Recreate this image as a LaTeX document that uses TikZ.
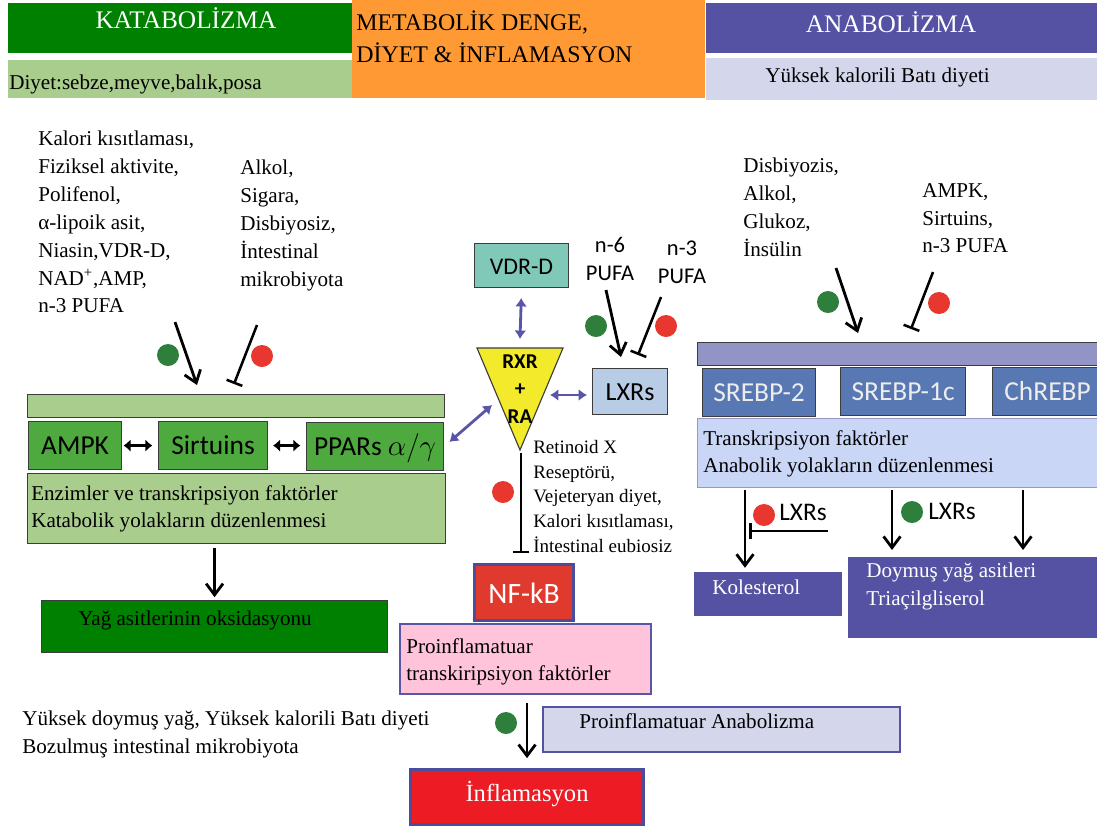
\documentclass[tikz,border=0pt]{standalone}
\usepackage{fontspec}
\setmainfont{Liberation Serif}
\setsansfont{Carlito}
\usetikzlibrary{arrows.meta}

\definecolor{katgreen}{HTML}{008000}
\definecolor{katlight}{HTML}{A9CD8C}
\definecolor{katmid}{HTML}{4EAA3E}
\definecolor{dengeorange}{HTML}{FF9933}
\definecolor{anapurple}{HTML}{5552A4}
\definecolor{analight}{HTML}{D4D7EB}
\definecolor{anabarcol}{HTML}{9294C6}
\definecolor{srebpblue}{HTML}{5878B4}
\definecolor{trblue}{HTML}{C9D6F5}
\definecolor{vdrteal}{HTML}{80C9B8}
\definecolor{lxrblue}{HTML}{B8CCE6}
\definecolor{rxryellow}{HTML}{F2EA2A}
\definecolor{nfred}{HTML}{E0392E}
\definecolor{infred}{HTML}{ED1C24}
\definecolor{nfedge}{HTML}{4A4C9C}
\definecolor{proinfpink}{HTML}{FFC3DA}
\definecolor{dotgreen}{HTML}{2F7F3C}
\definecolor{dotred}{HTML}{E8372F}
\definecolor{linkpurple}{HTML}{5956A9}
\definecolor{boxedge}{HTML}{3C3C3C}

\begin{document}
\begin{tikzpicture}[x=0.025cm, y=-0.025cm,
  sz/.style 2 args={minimum width=#1*0.025cm, minimum height=#2*0.025cm},
  flat/.style={rectangle, anchor=north west, inner sep=0pt},
  box/.style={flat, draw=boxedge, line width=0.8pt},
  sbox/.style={box, font=\sffamily\fontsize{19.5}{22}\selectfont, text height=12pt, text depth=0pt},
  txt/.style={inner sep=0pt, anchor=north west, align=left, font=\fontsize{15}{19.8}\selectfont},
  line/.style={inner sep=0pt, anchor=base west, font=\fontsize{15}{19.8}\selectfont},
  hdr/.style={anchor=base, inner sep=0pt, text=white, font=\fontsize{18}{21}\selectfont},
  dotg/.style={circle, fill=dotgreen, inner sep=0pt, minimum size=22*0.025cm},
  dotr/.style={circle, fill=dotred, inner sep=0pt, minimum size=22*0.025cm},
  act/.style={line width=2pt, -{Straight Barb[length=8pt, width=12pt]}},
  inh/.style={line width=1.8pt, -{Bar[width=12pt]}},
  link/.style={linkpurple, line width=2pt, {Latex[length=6pt, width=8.5pt]}-{Latex[length=6pt, width=8.5pt]}},
  pair/.style={line width=2.5pt, {Latex[length=5pt, width=9pt]}-{Latex[length=5pt, width=9pt]}}]
\useasboundingbox (0,0) rectangle (1097,825);

% header
\node[flat, fill=katgreen, sz={344}{50}] (kathead) at (8,3) {};
\node[hdr] (katlbl) at (186,28) {KATABOLİZMA};
\node[flat, fill=katlight, sz={344}{38}] (katdiet) at (8,60) {};
\node[line] (katdietlbl) at (9,89) {Diyet:sebze,meyve,balık,posa};
\node[flat, fill=dengeorange, sz={353}{98}] (denge) at (352,0) {};
\node[txt, font=\fontsize{17}{23.4}\selectfont] (dengelbl) at (356,10) {METABOLİK DENGE,\\DİYET \& İNFLAMASYON};
\node[flat, fill=anapurple, sz={392}{50}] (anahead) at (706,3) {};
\node[hdr] (analbl) at (891,32) {ANABOLİZMA};
\node[flat, fill=analight, sz={392}{42}] (anadiet) at (706,58) {};
\node[line] (anadietlbl) at (765,82) {Yüksek kalorili Batı diyeti};

% katabolizma
\node[txt] (katin) at (38,131) {Kalori kısıtlaması,\\Fiziksel aktivite,\\Polifenol,\\α-lipoik asit,\\Niasin,VDR-D,\\NAD\textsuperscript{+},AMP,\\n-3 PUFA};
\node[txt] (alkol) at (240,160) {Alkol,\\Sigara,\\Disbiyosiz,\\İntestinal\\mikrobiyota};
\node[dotg] (katg) at (168,355) {};
\node[dotr] (katr) at (262,356) {};
\coordinate (katact) at (175,322);
\coordinate (katactend) at (197,385);
\coordinate (katinh) at (257,325);
\coordinate (katinhend) at (234,384);

\node[box, fill=katlight, sz={417}{23}] (katbar) at (27,394) {};
\node[sbox, fill=katmid, sz={93}{48}] (ampk) at (28,421) {AMPK};
\node[sbox, fill=katmid, sz={109}{48}] (sirt) at (158,421) {Sirtuins};
\node[sbox, fill=katmid, sz={137}{48}] (ppar) at (306,422) {PPARs $\alpha/\gamma$};
\node[box, fill=katlight, sz={418}{70}] (katenz) at (27,473) {};
\node[txt] (katenzlbl) at (31,485) {Enzimler ve transkripsiyon faktörler\\Katabolik yolakların düzenlenmesi};
\node[box, fill=katgreen, sz={346}{52}] (oksid) at (41,600) {};
\node[line] (oksidlbl) at (78,625) {Yağ asitlerinin oksidasyonu};

% denge ve inflamasyon
\node[sbox, fill=vdrteal, sz={94}{44}, font=\sffamily\fontsize{17}{20}\selectfont] (vdr) at (474,243) {VDR-D};
\coordinate (rxrtl) at (477,348);
\coordinate (rxrtr) at (563,348);
\coordinate (rxrapex) at (520,450);
\draw[fill=rxryellow, draw=boxedge, line width=0.8pt] (rxrtl) -- (rxrtr) -- (rxrapex) -- cycle;
\node[align=center, inner sep=0pt, font=\sffamily\bfseries\fontsize{15}{19.8}\selectfont] (rxr) at (520,389) {RXR\\+\\RA};
\coordinate (rxrn) at (520,339);
\coordinate (rxre) at (550,395);
\coordinate (rxrw) at (492,405);
\coordinate (rxrbot) at (521,453);
\node[sbox, fill=lxrblue, sz={75}{46}, font=\sffamily\fontsize{18.5}{22}\selectfont, text height=13pt] (lxr) at (592,368) {LXRs};
\node[align=center, inner sep=0pt, font=\sffamily\fontsize{16}{19.8}\selectfont] (nsix) at (610,259) {n-6\\PUFA};
\node[align=center, inner sep=0pt, font=\sffamily\fontsize{16}{19.8}\selectfont] (nthree) at (682,262) {n-3\\PUFA};
\node[dotg] (lxrg) at (596,326) {};
\node[dotr] (lxrr) at (666,326) {};
\coordinate (lxract) at (606,290);
\coordinate (lxractend) at (621,357);
\coordinate (lxrinh) at (661,297);
\coordinate (lxrinhend) at (638,355);

\node[txt, font=\fontsize{13.5}{17.6}\selectfont] (retin) at (533,440) {Retinoid X\\Reseptörü,\\Vejeteryan diyet,\\Kalori kısıtlaması,\\İntestinal eubiosiz};
\node[dotr] (nfr) at (503,492) {};
\node[box, fill=nfred, sz={99}{56}, draw=nfedge, line width=2.2pt, text=white, font=\sffamily\fontsize{21}{24}\selectfont, text height=15.5pt, text depth=0pt] (nfkb) at (473,563) {NF-kB};
\node[box, fill=proinfpink, sz={251}{70}, draw=linkpurple, line width=1.4pt] (proinf) at (399,623) {};
\node[txt] (proinflbl) at (406,638) {Proinflamatuar\\transkiripsiyon faktörler};

\node[txt] (bozul) at (22,711) {Yüksek doymuş yağ, Yüksek kalorili Batı diyeti\\Bozulmuş intestinal mikrobiyota};
\node[dotg] (infg) at (506,723) {};
\node[box, fill=analight, sz={357}{45}, draw=anapurple, line width=1.4pt] (proana) at (542,706) {};
\node[line] (proanalbl) at (579,728) {Proinflamatuar Anabolizma};
\node[box, fill=infred, sz={233}{55}, draw=nfedge, line width=2.2pt, text=white, font=\fontsize{17.5}{20}\selectfont, text height=11.5pt, text depth=5pt] (inflam) at (409,768) {İnflamasyon};

% anabolizma
\node[txt] (disb) at (743,158) {Disbiyozis,\\Alkol,\\Glukoz,\\İnsülin};
\node[txt] (anampk) at (922,183) {AMPK,\\Sirtuins,\\n-3 PUFA};
\node[dotg] (anag) at (828,302) {};
\node[dotr] (anar) at (939,303) {};
\coordinate (anaact) at (836,268);
\coordinate (anaactend) at (858,333);
\coordinate (anainh) at (933,272);
\coordinate (anainhend) at (911,329);

\node[box, fill=anabarcol, sz={402}{23}] (anabar) at (697,342) {};
\node[sbox, fill=srebpblue, sz={113}{48}, text=white!93!black] (srebpii) at (702,368) {SREBP-2};
\node[sbox, fill=srebpblue, sz={125}{48}, text=white!93!black] (srebpic) at (840,367) {SREBP-1c};
\node[sbox, fill=srebpblue, sz={110}{48}, text=white!93!black] (chrebp) at (992,367) {ChREBP};
\node[box, fill=trblue, sz={402}{69}, draw=anapurple!60] (anaenz) at (697,418) {};
\node[txt] (anaenzlbl) at (703,430) {Transkripsiyon faktörler\\Anabolik yolakların düzenlenmesi};

\coordinate (kolact) at (745,490);
\node[dotr] (kolr) at (764,515) {};
\node[inner sep=0pt, font=\sffamily\fontsize{18}{21}\selectfont] (kollxr) at (803,512) {LXRs};
\coordinate (kolinh) at (828,531);
\coordinate (tgact) at (892,490);
\node[dotg] (tgg) at (912,512) {};
\node[inner sep=0pt, font=\sffamily\fontsize{18}{21}\selectfont] (tglxr) at (952,511) {LXRs};
\coordinate (tgactb) at (1023,490);
\node[flat, fill=anapurple, sz={148}{44}] (kolest) at (694,572) {};
\node[line, text=white] (kolestlbl) at (712,594) {Kolesterol};
\node[flat, fill=anapurple, sz={252}{81}] (doymus) at (848,557) {};
\node[txt, text=white] (doymuslbl) at (866,563) {Doymuş yağ asitleri\\Triaçilgliserol};

% connectors
\draw[act] (katact) -- (katactend);
\draw[inh] (katinh) -- (katinhend);
\draw[pair, shorten <=1pt, shorten >=4pt] (ampk.east) -- (sirt.west);
\draw[pair, shorten <=3.5pt, shorten >=4pt] (sirt.east) -- (sirt.east -| ppar.west);
\draw[act, shorten <=3pt, shorten >=2pt] (oksid.north |- katenz.south) -- (oksid.north);

\draw[link, shorten <=7pt] (vdr.south) -- (rxrn);
\draw[link, shorten >=3.5pt] (rxre) -- (rxre -| lxr.west);
\draw[link, shorten >=5pt] (rxrw) -- (ppar.east);
\draw[act] (lxract) -- (lxractend);
\draw[inh] (lxrinh) -- (lxrinhend);
\draw[inh, shorten >=7pt] (rxrbot) -- (rxrbot |- nfkb.north);
\draw[act, shorten <=6pt, shorten >=7pt] (inflam.north |- proinf.south) -- (inflam.north);

\draw[act] (anaact) -- (anaactend);
\draw[inh] (anainh) -- (anainhend);
\draw[act, shorten >=3pt] (kolact) -- (kolact |- kolest.north);
\draw[inh, shorten >=3pt] (kolinh) -- (kolinh -| kolact);
\draw[act, shorten >=5pt] (tgact) -- (tgact |- doymus.north);
\draw[act, shorten >=5pt] (tgactb) -- (tgactb |- doymus.north);
\end{tikzpicture}
\end{document}
